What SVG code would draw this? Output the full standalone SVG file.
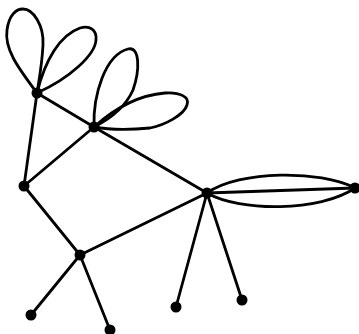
<svg xmlns="http://www.w3.org/2000/svg" width="359" height="334" viewBox="0 0 359 334">
<style>
.e{fill:none;stroke:#000;stroke-width:2.8;stroke-linecap:round;stroke-linejoin:round}
.n{fill:#000}
</style>
<rect width="359" height="334" fill="#fff"/>
<g id="connectors" class="e">
<line x1="37" y1="93" x2="94" y2="127"/>
<line x1="37" y1="93" x2="24" y2="186"/>
<line x1="94" y1="127" x2="24" y2="186"/>
<line x1="24" y1="186" x2="80" y2="255"/>
<line x1="94" y1="127" x2="207" y2="193"/>
<line x1="80" y1="255" x2="207" y2="193"/>
<line x1="80" y1="255" x2="31" y2="315"/>
<line x1="80" y1="255" x2="110" y2="330"/>
<line x1="207" y1="193" x2="176" y2="307"/>
<line x1="207" y1="193" x2="242" y2="300"/>
<line x1="207" y1="193" x2="355" y2="188"/>
<path d="M207,193 C240,170 320,170 355,188"/>
<path d="M207,193 C240,212 320,212 355,188"/>
<path d="M37,93 C20,70 4,50 7,30 C9,15 16,9 23,9 C33,9 44,25 43,45 C42,65 39,80 37,93"/>
<path d="M37,93 C45,60 60,35 80,28 C90,25 97,30 96,40 C95,55 70,78 37,93"/>
<path d="M94,127 C93,95 105,55 128,49 C140,46 140,70 133,90 C125,108 108,120 94,127"/>
<path d="M94,127 C115,108 140,95 165,93 C180,92 190,97 187,105 C184,115 165,125 150,128 C130,130 110,130 94,127"/>
</g>
<g id="nA"><circle class="n" cx="37" cy="93" r="5.5"/></g>
<g id="nB"><circle class="n" cx="94" cy="127" r="5.5"/></g>
<g id="nC"><circle class="n" cx="24" cy="186" r="5.5"/></g>
<g id="nD"><circle class="n" cx="80" cy="255" r="5.5"/></g>
<g id="nE"><circle class="n" cx="207" cy="193" r="5.5"/></g>
<g id="nF"><circle class="n" cx="355" cy="188" r="5.5"/></g>
<g id="nG"><circle class="n" cx="31" cy="315" r="5.5"/></g>
<g id="nH"><circle class="n" cx="110" cy="330" r="5.5"/></g>
<g id="nI"><circle class="n" cx="176" cy="307" r="5.5"/></g>
<g id="nJ"><circle class="n" cx="242" cy="300" r="5.5"/></g>
</svg>
